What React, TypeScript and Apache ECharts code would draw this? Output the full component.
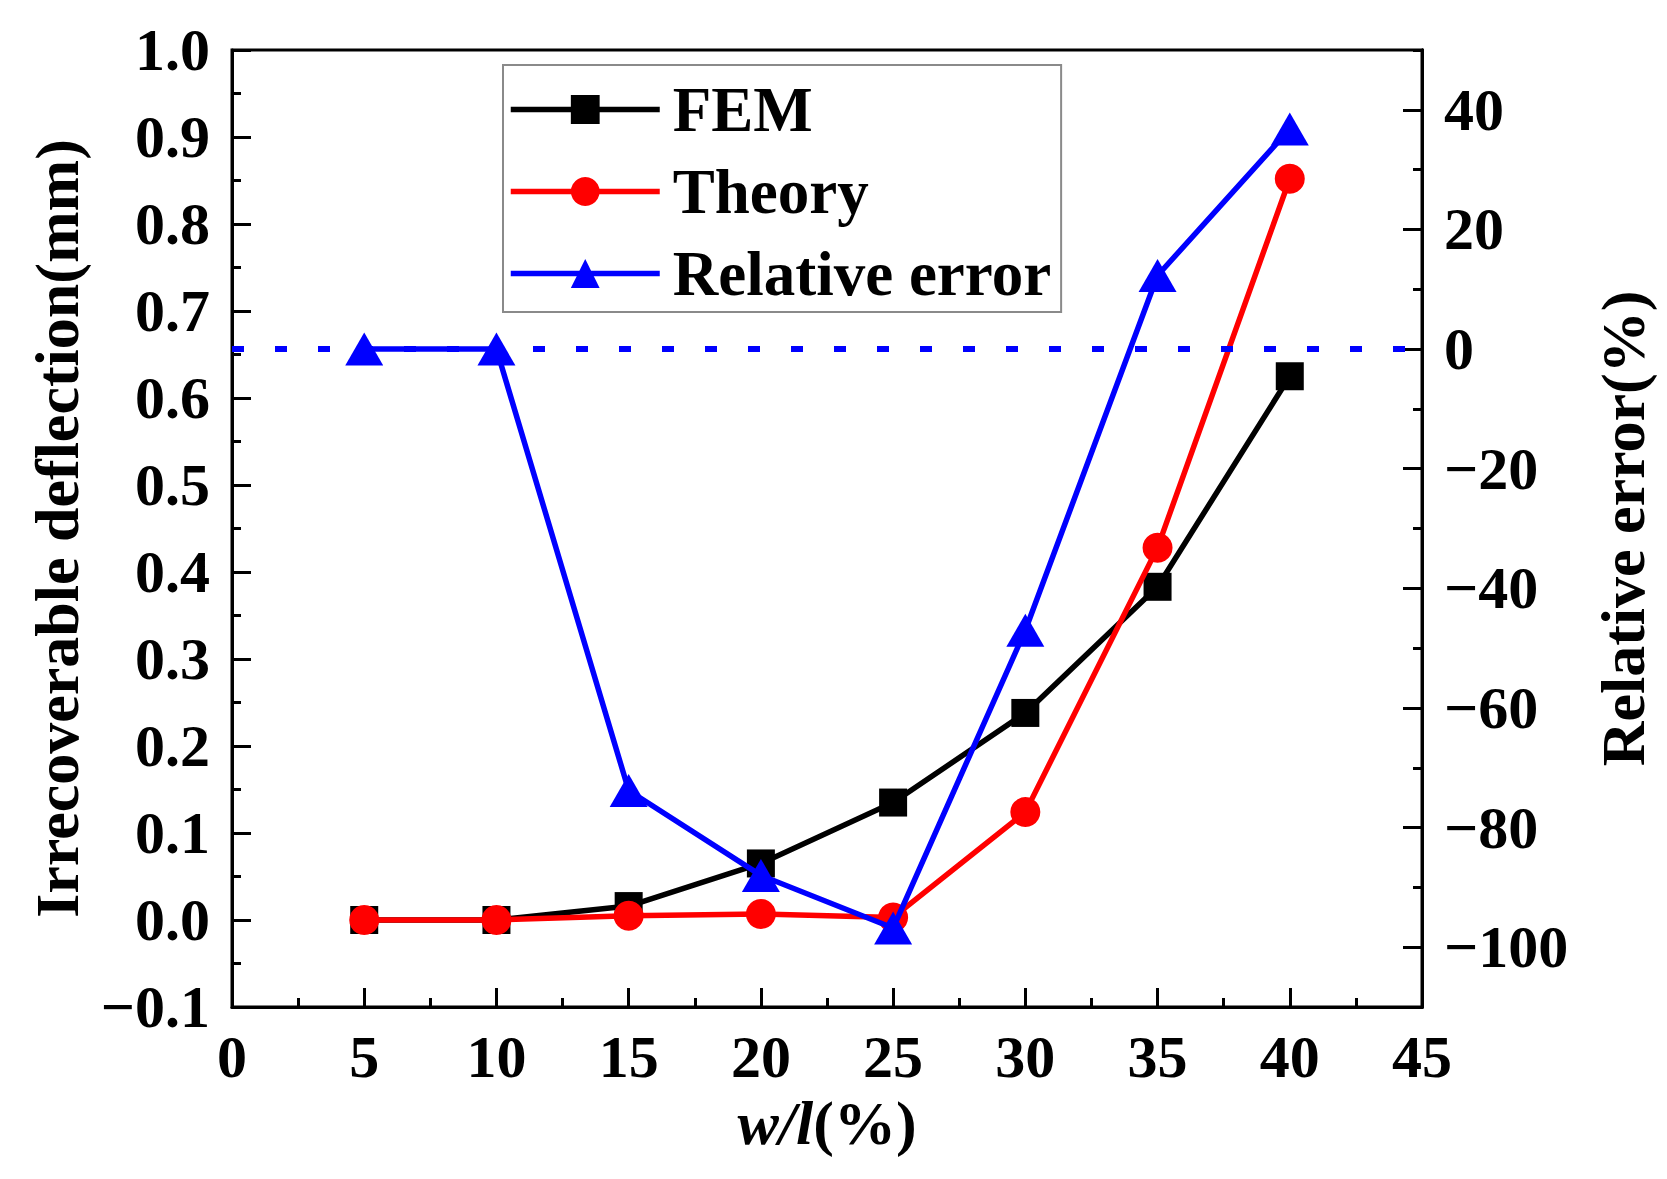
import React, { useEffect, useRef } from "react";
import * as echarts from "echarts";

const xValues = [5, 10, 15, 20, 25, 30, 35, 40];
const femValues = [0, 0, 0.016, 0.065, 0.135, 0.238, 0.383, 0.625];
const theoryValues = [0, 0, 0.005, 0.007, 0.003, 0.124, 0.428, 0.852];
const relErrValues = [0, 0, -73.8, -88, -96.8, -47, 12.3, 36.8];
const rightMajorTicks = [-100, -80, -60, -40, -20, 0, 20, 40];
const seriesNames = ["FEM", "Theory", "Relative error"];

const FONT = "'Liberation Serif', 'Times New Roman', serif";

const pair = (ys: number[]) => xValues.map((x, i) => [x, ys[i]]);
const minusFix = (s: string) => s.replace("-", "\u2212");

export default function App() {
  const ref = useRef<HTMLDivElement>(null);
  useEffect(() => {
    if (!ref.current) return;
    const chart = echarts.init(ref.current, null, { renderer: "svg" });
    const axisLine = { show: true, onZero: false, lineStyle: { color: "#000", width: 3 } };
    const labelStyle = { fontFamily: FONT, fontWeight: "bold" as const, fontSize: 60, color: "#000" };
    chart.setOption({
      animation: false,
      backgroundColor: "#fff",
      grid: {
        left: 232,
        right: 245,
        top: 50,
        bottom: 172,
        show: true,
        borderColor: "#000",
        borderWidth: 3,
        containLabel: false,
        outerBoundsMode: "none",
      },
      legend: {
        orient: "vertical",
        left: 503,
        top: 65,
        itemWidth: 149,
        itemHeight: 36,
        itemGap: 19,
        padding: [13, 10, 7, 5],
        borderColor: "#8a8a8a",
        borderWidth: 2,
        backgroundColor: "#fff",
        data: seriesNames,
        lineStyle: { width: 5.5 },
        textStyle: {
          fontFamily: FONT,
          fontWeight: "bold",
          fontSize: 63,
          lineHeight: 62,
          color: "#000",
          padding: [0, 0, 0, 8],
        },
      },
      xAxis: {
        type: "value",
        min: 0,
        max: 45,
        interval: 5,
        name: "{i|w/l}{n|(%)}",
        nameLocation: "middle",
        nameGap: 84,
        nameTextStyle: {
          rich: {
            i: { fontFamily: FONT, fontWeight: "bold", fontStyle: "italic", fontSize: 62, color: "#000" },
            n: { fontFamily: FONT, fontWeight: "bold", fontSize: 62, color: "#000" },
          },
        },
        axisLine,
        axisTick: { show: true, inside: true, length: 19, lineStyle: { color: "#000", width: 3 } },
        minorTick: { show: true, splitNumber: 2, length: 9, lineStyle: { color: "#000", width: 3 } },
        axisLabel: { ...labelStyle, margin: 20, showMinLabel: true, showMaxLabel: true },
        splitLine: { show: false },
      },
      yAxis: [
        {
          type: "value",
          position: "left",
          min: -0.1,
          max: 1.0,
          interval: 0.1,
          name: "Irrecoverable deflection(mm)",
          nameLocation: "middle",
          nameRotate: 90,
          nameGap: 144,
          nameTextStyle: { fontFamily: FONT, fontWeight: "bold", fontSize: 62, color: "#000" },
          axisLine,
          axisTick: { show: true, inside: true, length: 19, lineStyle: { color: "#000", width: 3 } },
          minorTick: { show: true, splitNumber: 2, length: 9, lineStyle: { color: "#000", width: 3 } },
          axisLabel: {
            ...labelStyle,
            margin: 22,
            showMinLabel: true,
            showMaxLabel: true,
            formatter: (v: number) => minusFix(v.toFixed(1)),
          },
          splitLine: { show: false },
        },
        {
          type: "value",
          position: "right",
          min: -110,
          max: 50,
          name: "Relative error(%)",
          nameLocation: "middle",
          nameRotate: 90,
          nameGap: 170,
          nameTextStyle: { fontFamily: FONT, fontWeight: "bold", fontSize: 62, color: "#000" },
          axisLine,
          axisTick: {
            show: true,
            inside: true,
            length: 19,
            customValues: rightMajorTicks,
            lineStyle: { color: "#000", width: 3 },
          },
          axisLabel: {
            ...labelStyle,
            margin: 22,
            customValues: rightMajorTicks,
            formatter: (v: number) => minusFix(String(Math.round(v))),
          },
          splitLine: { show: false },
        },
        {
          type: "value",
          position: "right",
          min: -110,
          max: 50,
          interval: 10,
          axisLine,
          axisTick: { show: true, inside: true, length: 9, lineStyle: { color: "#000", width: 3 } },
          axisLabel: { show: false },
          splitLine: { show: false },
        },
      ],
      series: [
        {
          name: seriesNames[0],
          type: "line",
          yAxisIndex: 0,
          data: pair(femValues),
          symbol: "rect",
          symbolSize: 28,
          lineStyle: { color: "#000", width: 5.5 },
          itemStyle: { color: "#000" },
          z: 2,
        },
        {
          name: seriesNames[1],
          type: "line",
          yAxisIndex: 0,
          data: pair(theoryValues),
          symbol: "circle",
          symbolSize: 30,
          lineStyle: { color: "#ff0000", width: 5.5 },
          itemStyle: { color: "#ff0000" },
          z: 3,
        },
        {
          name: seriesNames[2],
          type: "line",
          yAxisIndex: 1,
          data: pair(relErrValues),
          symbol: "triangle",
          symbolSize: [38, 33],
          lineStyle: { color: "#0000ff", width: 5.5 },
          itemStyle: { color: "#0000ff" },
          z: 4,
          markLine: {
            silent: true,
            symbol: ["none", "none"],
            label: { show: false },
            lineStyle: { color: "#0000ff", width: 6, type: [12, 31] },
            data: [{ yAxis: 0 }],
          },
        },
      ],
    });
    return () => chart.dispose();
  }, []);
  return (
    <div
      ref={ref}
      style={{ position: "absolute", left: 0, top: 0, width: 1667, height: 1179, background: "#fff" }}
    />
  );
}
